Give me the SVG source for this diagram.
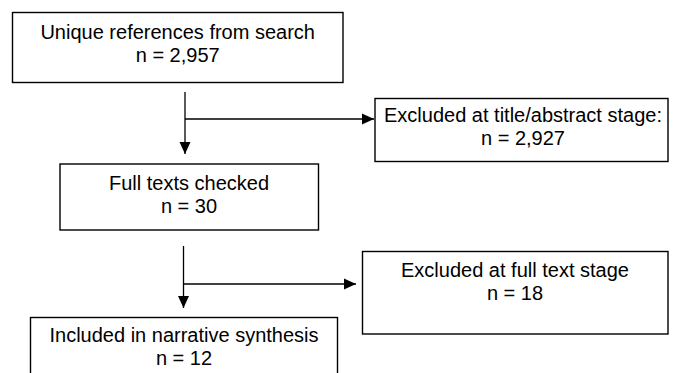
<svg xmlns="http://www.w3.org/2000/svg" width="674" height="373" viewBox="0 0 674 373">
  <style>
    .box { fill: #ffffff; stroke: #000000; stroke-width: 1.4; }
    .lbl { font-family: "Liberation Sans", Arial, sans-serif; font-size: 20px; fill: #000000; text-anchor: middle; }
    .conn { fill: none; stroke: #000000; stroke-width: 1.3; }
  </style>
  <defs>
    <marker id="arrow" markerUnits="userSpaceOnUse" markerWidth="12" markerHeight="12" viewBox="0 0 12 12" refX="12" refY="6" orient="auto">
      <path d="M0,0.5 L12,6 L0,11.5 Z" fill="#000000"/>
    </marker>
  </defs>
  <rect width="674" height="373" fill="#ffffff"/>
  <g id="connectors">
    <line class="conn" x1="185" y1="92" x2="185" y2="154" marker-end="url(#arrow)"/>
    <line class="conn" x1="185" y1="119" x2="374" y2="119" marker-end="url(#arrow)"/>
    <line class="conn" x1="183.5" y1="246" x2="183.5" y2="308" marker-end="url(#arrow)"/>
    <line class="conn" x1="183.5" y1="284" x2="356" y2="284" marker-end="url(#arrow)"/>
  </g>
  <g id="node-search">
    <rect class="box" x="12.5" y="12.5" width="330.5" height="70"/>
    <text class="lbl" x="177.7" y="38.5">Unique references from search</text>
    <text class="lbl" x="177.7" y="62">n = 2,957</text>
  </g>
  <g id="node-excluded-title">
    <rect class="box" x="375" y="98.5" width="293" height="63"/>
    <text class="lbl" x="523" y="122">Excluded at title/abstract stage:</text>
    <text class="lbl" x="523" y="145">n = 2,927</text>
  </g>
  <g id="node-fulltext">
    <rect class="box" x="60" y="164" width="258.5" height="66"/>
    <text class="lbl" x="189" y="189.5">Full texts checked</text>
    <text class="lbl" x="189" y="212.5">n = 30</text>
  </g>
  <g id="node-excluded-full">
    <rect class="box" x="362.5" y="251.5" width="305.5" height="82.5"/>
    <text class="lbl" x="515" y="277">Excluded at full text stage</text>
    <text class="lbl" x="515" y="300">n = 18</text>
  </g>
  <g id="node-included">
    <rect class="box" x="30.5" y="317.5" width="307" height="70"/>
    <text class="lbl" x="184" y="342">Included in narrative synthesis</text>
    <text class="lbl" x="184" y="365">n = 12</text>
  </g>
</svg>
